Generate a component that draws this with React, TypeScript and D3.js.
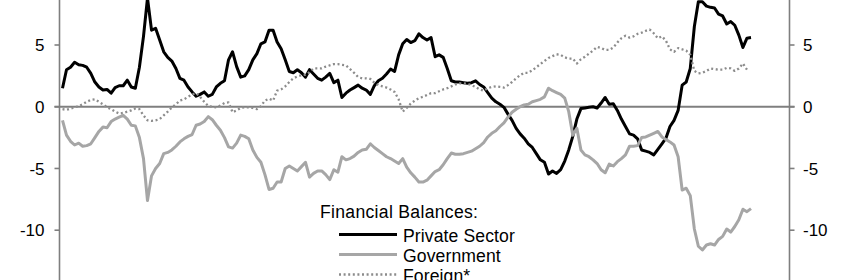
import React from "react";
import * as d3 from "d3";

// Quarterly data, 1970Q1 onward (% of GDP)
const privateSector: number[] = [
  1.5, 3.0, 3.2, 3.6, 3.4, 3.35, 3.2, 2.7, 2.0, 1.6,
  1.35, 1.4, 1.1, 1.55, 1.7, 1.7, 2.15, 1.6, 1.5, 3.2,
  5.7, 8.8, 6.2, 6.35, 5.4, 4.45, 4.0, 3.7, 3.1, 2.3,
  2.15, 1.6, 1.2, 0.85, 1.0, 1.2, 0.85, 1.0, 1.6, 1.9,
  2.1, 3.8, 4.45, 3.25, 2.4, 2.5, 3.0, 3.8, 4.3, 5.1,
  5.25, 6.2, 6.2, 5.25, 4.7, 3.8, 2.85, 2.75, 3.0, 2.75,
  2.4, 3.0, 2.65, 2.3, 2.15, 2.4, 2.7, 1.95, 2.15, 0.75,
  1.1, 1.35, 1.55, 1.75, 1.5, 1.35, 1.0, 1.7, 2.1, 2.3,
  2.65, 3.05, 2.85, 4.2, 5.1, 5.45, 5.2, 5.35, 5.9, 5.6,
  5.4, 5.6, 4.05, 4.2, 4.0, 3.1, 2.1, 2.0, 2.0, 1.95,
  1.9, 1.95, 2.1, 1.8, 1.6, 1.15, 0.7, 0.4, 0.2, -0.05,
  -0.6, -1.1, -1.75, -2.2, -2.55, -3.0, -3.3, -3.8, -4.3, -4.5,
  -5.45, -5.2, -5.4, -5.1, -4.4, -3.5, -2.4, -1.0, -0.15, -0.1,
  -0.05, 0.0, -0.1, 0.3, 0.75, 0.2, 0.25, -0.3, -1.0, -1.6,
  -2.2, -2.3, -2.6, -3.5, -3.6, -3.7, -3.9, -3.45, -3.0, -2.55,
  -1.6, -1.1, -0.3, 1.75, 2.0, 3.1, 6.5, 8.5, 8.5, 8.15,
  8.05, 8.0, 7.5, 7.35, 6.7, 6.9, 6.6, 5.8, 4.8, 5.55,
  5.6,
];

const government: number[] = [
  -1.1, -2.3, -2.8, -3.1, -2.95, -3.2, -3.15, -3.0, -2.5, -2.0,
  -1.65, -1.7, -1.2, -1.0, -0.85, -0.7, -1.0, -1.5, -1.55, -2.5,
  -4.2, -7.6, -5.6, -5.0, -4.6, -3.8, -3.7, -3.5, -3.2, -2.85,
  -2.6, -2.4, -2.25, -1.5, -1.4, -1.2, -0.8, -1.05, -1.5, -1.9,
  -2.5, -3.25, -3.35, -2.95, -2.3, -2.4, -2.6, -3.5, -4.1, -4.5,
  -5.5, -6.7, -6.6, -6.1, -6.1, -5.0, -4.8, -5.0, -5.2, -4.85,
  -4.5, -5.7, -5.4, -5.2, -5.2, -5.5, -5.9, -5.1, -5.3, -4.05,
  -4.3, -4.2, -4.0, -3.7, -3.5, -3.45, -3.0, -3.3, -3.55, -3.8,
  -4.05, -4.2, -4.4, -4.6, -4.2, -4.9, -5.35, -5.7, -6.1, -6.1,
  -5.95, -5.6, -5.25, -5.1, -4.7, -4.2, -3.75, -3.85, -3.85, -3.8,
  -3.7, -3.6, -3.4, -3.2, -2.9, -2.45, -2.15, -1.95, -1.6, -1.3,
  -0.85, -0.45, -0.2, 0.0, 0.15, 0.2, 0.4, 0.5, 0.6, 0.8,
  1.5, 1.3, 1.15, 1.0, 0.7, -0.4, -2.3, -1.75, -3.5, -3.9,
  -4.05, -4.3, -4.6, -5.1, -5.35, -4.65, -4.8, -4.45, -4.2, -3.9,
  -3.2, -3.2, -3.15, -2.5, -2.45, -2.3, -2.15, -2.0, -2.45, -2.65,
  -2.85, -3.1, -4.05, -6.75, -6.6, -7.2, -9.9, -11.3, -11.6, -11.2,
  -11.1, -11.2, -10.75, -10.5, -9.9, -10.15, -9.7, -9.15, -8.3, -8.5,
  -8.25,
];

const foreign: number[] = [
  -0.2, -0.25, -0.15, -0.05, 0.05, 0.2, 0.4, 0.55, 0.6, 0.4,
  0.2, -0.05, -0.2, -0.4, -0.55, -0.5, -0.4, -0.3, -0.15, -0.2,
  -0.7, -1.1, -1.15, -1.1, -1.0, -0.7, -0.4, -0.05, 0.2, 0.5,
  0.6, 0.8, 1.0, 1.1, 0.8, 0.4, 0.05, 0.0, -0.05, 0.1,
  0.3, 0.35, -0.45, -0.3, -0.1, -0.05, -0.05, -0.1, -0.2, 0.05,
  0.5, 0.65, 0.5, 1.3, 1.4, 1.65, 2.0, 2.3, 2.45, 2.55,
  2.6, 2.8, 3.1, 3.1, 3.1, 3.25, 3.35, 3.45, 3.45, 3.4,
  3.35, 3.05, 2.75, 2.4, 2.3, 2.3, 2.25, 1.95, 1.75, 1.65,
  1.55, 1.4, 1.2, 0.6, -0.4, -0.1, 0.25, 0.5, 0.7, 0.8,
  0.95, 1.1, 1.1, 1.25, 1.4, 1.5, 1.65, 1.8, 1.9, 1.9,
  1.85, 1.75, 1.6, 1.4, 1.3, 1.5, 1.6, 1.65, 1.6, 1.55,
  1.75, 2.0, 2.3, 2.55, 2.75, 2.75, 2.95, 3.2, 3.45, 3.7,
  3.95, 4.1, 4.25, 4.2, 4.0, 3.9, 3.9, 3.5, 3.85, 4.05,
  4.3, 4.55, 4.85, 4.75, 4.6, 4.6, 4.8, 5.2, 5.55, 5.75,
  5.6, 5.7, 5.9, 6.0, 6.15, 6.25, 5.95, 5.55, 5.7, 5.35,
  4.65, 4.45, 4.75, 4.65, 4.55, 4.2, 2.9, 2.7, 2.75, 2.9,
  3.1, 3.05, 3.0, 3.0, 3.15, 3.1, 2.9, 3.1, 3.5, 3.0,
];

const yTicks: number[] = [-10, -5, 0, 5];
const legendTitle = "Financial Balances:";
const legendLabels: string[] = ["Private Sector", "Government", "Foreign*"];

const startYear = 1970;
const quarterDate = (i: number) =>
  new Date(startYear + Math.floor(i / 4), (i % 4) * 3, 1);

export default function App() {
  const W = 842;
  const H = 280;
  const x = d3
    .scaleTime()
    .domain([quarterDate(0), quarterDate(170)])
    .range([62.5, 751]);
  const y = d3.scaleLinear().domain([-10, 5]).range([230.2, 45.0]);

  const line = d3
    .line<number>()
    .x((_, i) => x(quarterDate(i)))
    .y((d) => y(d));

  const axisColor = "#7f7f7f";
  const fontFamily = "Liberation Sans, Arial, sans-serif";
  const fs = 17;
  const legendFs = 17.6;
  const leftX = 59.5;
  const rightX = 789.5;

  const series = [
    { data: privateSector, color: "#000000", width: 3, dash: undefined as string | undefined },
    { data: government, color: "#a6a6a6", width: 3, dash: undefined as string | undefined },
    { data: foreign, color: "#8c8c8c", width: 2.3, dash: "2 2.6" },
  ];

  const legendY = [234.5, 254.5, 274.5];

  return (
    <svg
      width={W}
      height={H}
      style={{ position: "absolute", left: 0, top: 0, background: "#fff" }}
      fontFamily={fontFamily}
    >
      <rect x={0} y={0} width={W} height={H} fill="#fff" />
      {/* axes */}
      <line x1={leftX} x2={leftX} y1={0} y2={H} stroke={axisColor} strokeWidth={1.6} />
      <line x1={rightX} x2={rightX} y1={0} y2={H} stroke={axisColor} strokeWidth={1.6} />
      <line x1={leftX - 5} x2={rightX + 5} y1={y(0)} y2={y(0)} stroke={axisColor} strokeWidth={1.8} />
      {yTicks.map((t) => (
        <g key={t}>
          <line x1={leftX - 5} x2={leftX} y1={y(t)} y2={y(t)} stroke={axisColor} strokeWidth={1.6} />
          <line x1={rightX} x2={rightX + 5} y1={y(t)} y2={y(t)} stroke={axisColor} strokeWidth={1.6} />
          <text x={44.5} y={y(t)} dy="0.36em" textAnchor="end" fontSize={fs} fill="#000">
            {t}
          </text>
          <text x={803} y={y(t)} dy="0.36em" textAnchor="start" fontSize={fs} fill="#000">
            {t}
          </text>
        </g>
      ))}
      {/* series */}
      {series.map((s, k) => (
        <path
          key={k}
          d={line(s.data) || ""}
          fill="none"
          stroke={s.color}
          strokeWidth={s.width}
          strokeDasharray={s.dash}
          strokeLinejoin="round"
        />
      ))}
      {/* legend */}
      <text x={320} y={218} fontSize={legendFs} letterSpacing={0.3} fill="#000">
        {legendTitle}
      </text>
      {legendLabels.map((lab, k) => (
        <g key={lab}>
          <line
            x1={339}
            x2={397}
            y1={legendY[k]}
            y2={legendY[k]}
            stroke={series[k].color}
            strokeWidth={series[k].width}
            strokeDasharray={series[k].dash}
          />
          <text x={403} y={legendY[k] + 7.5} fontSize={legendFs} letterSpacing={0.1} fill="#000">
            {lab}
          </text>
        </g>
      ))}
    </svg>
  );
}
